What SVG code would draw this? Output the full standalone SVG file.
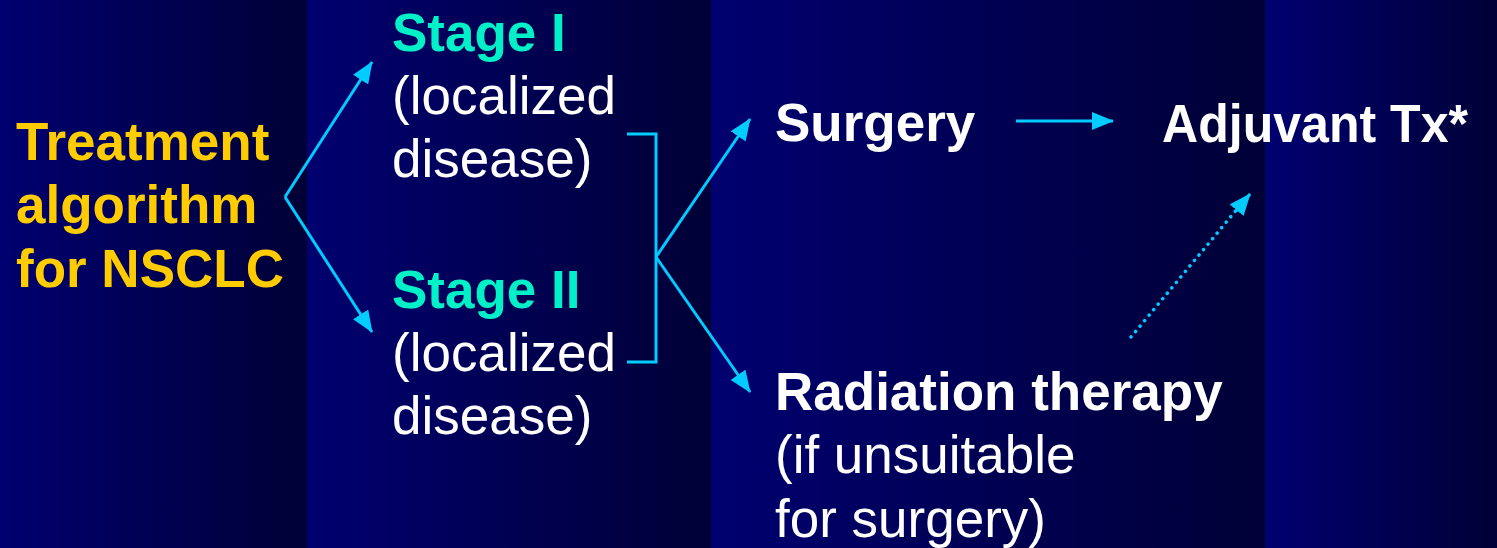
<svg xmlns="http://www.w3.org/2000/svg" width="1497" height="548" viewBox="0 0 1497 548">
  <defs>
    <linearGradient id="band" x1="0" y1="0" x2="1" y2="0">
      <stop offset="0" stop-color="#000070"/>
      <stop offset="1" stop-color="#000036"/>
    </linearGradient>
    <marker id="ah" viewBox="0 0 22 18" refX="21" refY="9" markerWidth="22" markerHeight="18" markerUnits="userSpaceOnUse" orient="auto">
      <path d="M0,0 L22,9 L0,18 z" fill="#00ccff"/>
    </marker>
    <style>
      text { font-family: "Liberation Sans", Arial, Helvetica, sans-serif; font-size: 53px; }
      .b { font-weight: bold; }
      .yellow { fill: #ffcc00; }
      .teal { fill: #00f0c8; }
      .white { fill: #ffffff; }
      .conn { fill: none; stroke: #00ccff; stroke-width: 3; }
      .dot { stroke-dasharray: 0.1 7; stroke-linecap: round; stroke-width: 3.5; }
    </style>
  </defs>

  <g id="background">
    <rect x="0" y="0" width="307" height="548" fill="url(#band)"/>
    <rect x="307" y="0" width="404" height="548" fill="url(#band)"/>
    <rect x="711" y="0" width="554" height="548" fill="url(#band)"/>
    <rect x="1265" y="0" width="232" height="548" fill="url(#band)"/>
  </g>

  <g id="connectors">
    <path class="conn" d="M285,197 L372,62" marker-end="url(#ah)"/>
    <path class="conn" d="M285,197 L372,332" marker-end="url(#ah)"/>
    <path class="conn" d="M627,134 H656 V362 H627"/>
    <path class="conn" d="M656,257 L750,119" marker-end="url(#ah)"/>
    <path class="conn" d="M656,257 L750,392" marker-end="url(#ah)"/>
    <path class="conn" d="M1016,121 L1113,121" marker-end="url(#ah)"/>
    <path class="conn dot" d="M1131,337 L1238,208"/>
    <path class="conn" d="M1236,211 L1250,194" marker-end="url(#ah)" stroke="none"/>
  </g>

  <g id="node-title">
    <text class="b yellow" x="16" y="160">Treatment</text>
    <text class="b yellow" x="16" y="223">algorithm</text>
    <text class="b yellow" x="16" y="287">for NSCLC</text>
  </g>

  <g id="node-stage1">
    <text class="b teal" x="392" y="51">Stage I</text>
    <text class="white" x="392" y="114">(localized</text>
    <text class="white" x="392" y="177">disease)</text>
  </g>

  <g id="node-stage2">
    <text class="b teal" x="392" y="308">Stage II</text>
    <text class="white" x="392" y="371">(localized</text>
    <text class="white" x="392" y="434">disease)</text>
  </g>

  <g id="node-surgery">
    <text class="b white" x="775" y="141">Surgery</text>
  </g>

  <g id="node-adjuvant">
    <text class="b white" x="1162" y="142" textLength="306" lengthAdjust="spacingAndGlyphs">Adjuvant Tx*</text>
  </g>

  <g id="node-radiation">
    <text class="b white" x="775" y="410">Radiation therapy</text>
    <text class="white" x="775" y="473">(if unsuitable</text>
    <text class="white" x="775" y="537">for surgery)</text>
  </g>
</svg>
